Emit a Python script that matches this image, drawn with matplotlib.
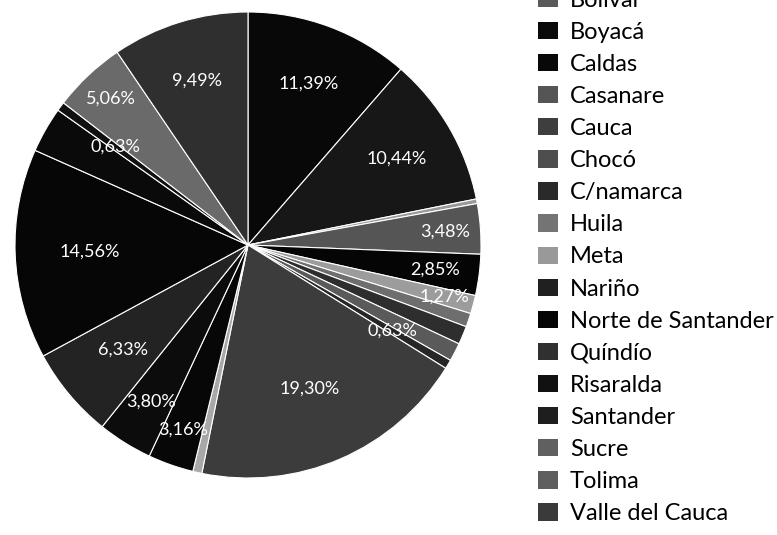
import matplotlib
matplotlib.use("Agg")
import matplotlib.pyplot as plt
from matplotlib.patches import Patch
import numpy as np

# share per slice (%), clockwise from 12 o'clock
pct = [11.39, 10.44, 0.32, 3.48, 2.85, 1.27, 0.95, 1.27, 1.27, 0.63,
       19.30, 0.63, 3.16, 3.80, 6.33, 14.56, 3.16, 0.63, 5.06, 9.49]
shown = [1, 1, 0, 1, 1, 1, 0, 0, 0, 1,
         1, 0, 1, 1, 1, 1, 0, 1, 1, 1]
slice_colors = ["#080808", "#171717", "#9a9a9a", "#555555", "#050505",
                "#9c9c9c", "#6e6e6e", "#2e2e2e", "#5a5a5a", "#262626",
                "#3c3c3c", "#a8a8a8", "#070707", "#0c0c0c", "#232323",
                "#060606", "#0a0a0a", "#101010", "#6a6a6a", "#2f2f2f"]
label_r = [0.74, 0.74, 0.7, 0.85, 0.81, 0.87, 0.7, 0.7, 0.7, 0.72,
           0.67, 0.7, 0.84, 0.79, 0.70, 0.68, 0.7, 0.71, 0.86, 0.74]

departments = ["Bolívar", "Boyacá", "Caldas", "Casanare", "Cauca", "Chocó",
               "C/namarca", "Huila", "Meta", "Nariño", "Norte de Santander",
               "Quíndío", "Risaralda", "Santander", "Sucre", "Tolima",
               "Valle del Cauca"]
dept_colors = ["#5a5a5a", "#0a0a0a", "#080808", "#555555", "#3e3e3e",
               "#4e4e4e", "#2a2a2a", "#747474", "#999999", "#202020",
               "#050505", "#303030", "#111111", "#1e1e1e", "#606060",
               "#5e5e5e", "#3a3a3a"]

plt.rcParams["font.family"] = ["Lato", "DejaVu Sans"]

W, H = 777, 535
fig = plt.figure(figsize=(W / 100, H / 100), dpi=100)
cx, cy, R = 248, 245, 233
ax = fig.add_axes([(cx - R) / W, (H - cy - R) / H, 2 * R / W, 2 * R / H])

wedges, _ = ax.pie(pct, colors=slice_colors, startangle=90, counterclock=False,
                   wedgeprops=dict(edgecolor="white", linewidth=0.8))
ax.set_xlim(-1, 1)
ax.set_ylim(-1, 1)
ax.set_aspect("equal")
ax.axis("off")

for w, v, s, r in zip(wedges, pct, shown, label_r):
    if not s:
        continue
    ang = np.deg2rad((w.theta1 + w.theta2) / 2)
    txt = f"{v:.2f}".replace(".", ",") + "%"
    ax.text(r * np.cos(ang), r * np.sin(ang), txt, color="white",
            fontsize=13, ha="center", va="center")

handles = [Patch(facecolor=c, edgecolor="none") for c in dept_colors]
fig.legend(handles, departments, loc="upper left",
           bbox_to_anchor=(528.5 / W, 1.037), frameon=False, fontsize=17,
           handlelength=0.85, handleheight=0.75, handletextpad=0.5,
           labelspacing=0.47, borderaxespad=0)

fig.savefig("out.png", dpi=100)
